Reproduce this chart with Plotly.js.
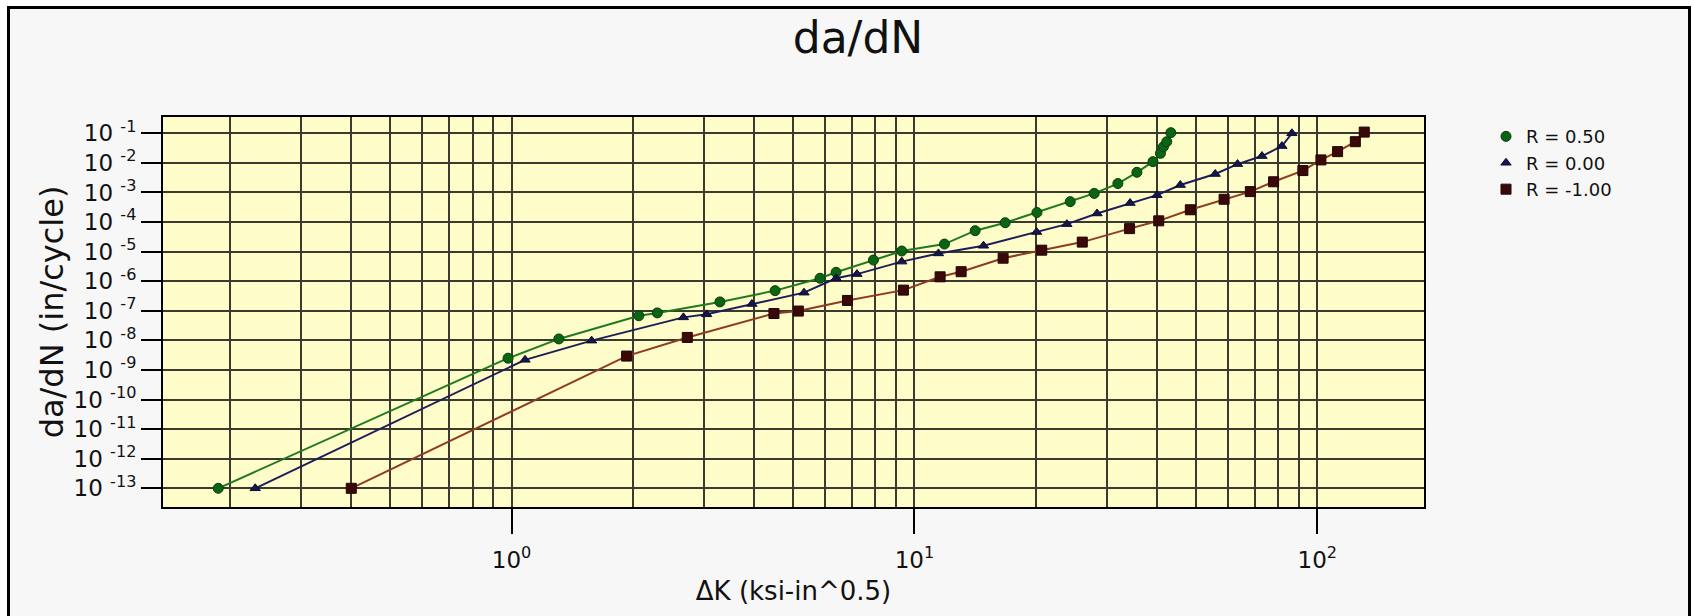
<!DOCTYPE html>
<html><head><meta charset="utf-8">
<script src="https://cdn.plot.ly/plotly-3.0.1.min.js"></script>
<style>
html,body{margin:0;padding:0;background:#ffffff;width:1694px;height:616px;overflow:hidden}
#frame{position:absolute;left:7px;top:6px;width:1684px;height:620px;box-sizing:border-box;border:3px solid #000;border-bottom:none;background:#f7f7f7}
#chart{position:absolute;left:0;top:0;width:1694px;height:616px}
</style></head><body>
<div id="frame"></div><div id="chart"></div>
<script>
// ---- data ----
const seriesNames = ['R = 0.50', 'R = 0.00', 'R = -1.00'];

const dK_R050 = [0.187, 0.98, 1.31, 2.07, 2.30, 3.29, 4.51, 5.83, 6.39, 7.91, 9.30, 11.87, 14.15, 16.80, 20.14, 24.36, 27.94, 31.99, 35.67, 39.1, 40.8, 41.5, 42.3, 43.3];
const dadN_R050 = [1e-13, 2.5e-9, 1.12e-8, 6.8e-8, 8.5e-8, 2.0e-7, 4.8e-7, 1.26e-6, 2.0e-6, 5.2e-6, 1.05e-5, 1.8e-5, 5.1e-5, 9.5e-5, 2.1e-4, 4.9e-4, 9.3e-4, 2.0e-3, 4.8e-3, 1.1e-2, 2.1e-2, 3.5e-2, 5.2e-2, 0.105];

const dK_R000 = [0.231, 1.08, 1.58, 2.67, 3.05, 3.95, 5.32, 6.39, 7.2, 9.30, 11.47, 14.84, 20.1, 23.9, 28.4, 34.3, 40.0, 45.7, 55.8, 63.4, 72.9, 81.7, 86.5];
const dadN_R000 = [1e-13, 2.2e-9, 9.8e-9, 6.0e-8, 7.6e-8, 1.7e-7, 4.1e-7, 1.26e-6, 1.74e-6, 4.6e-6, 8.7e-6, 1.58e-5, 4.6e-5, 8.5e-5, 1.95e-4, 4.4e-4, 8.1e-4, 1.78e-3, 4.2e-3, 9.1e-3, 1.7e-2, 3.7e-2, 0.1];

const dK_Rm100 = [0.40, 1.93, 2.73, 4.48, 5.15, 6.82, 9.39, 11.58, 13.06, 16.6, 20.7, 26.1, 34.2, 40.4, 48.4, 58.7, 68.2, 77.9, 92.1, 102.1, 112.3, 124.3, 130.8];
const dadN_Rm100 = [1e-13, 2.95e-9, 1.26e-8, 8.1e-8, 9.8e-8, 2.24e-7, 5.0e-7, 1.41e-6, 2.1e-6, 6.0e-6, 1.12e-5, 2.1e-5, 6.0e-5, 1.1e-4, 2.6e-4, 5.9e-4, 1.07e-3, 2.3e-3, 5.5e-3, 1.26e-2, 2.4e-2, 5.2e-2, 0.11];

const xTickVals = [1, 10, 100];
const xTickText = ['10<sup>0</sup>', '10<sup>1</sup>', '10<sup>2</sup>'];
const yTickVals = [1e-13, 1e-12, 1e-11, 1e-10, 1e-9, 1e-8, 1e-7, 1e-6, 1e-5, 1e-4, 1e-3, 1e-2, 1e-1];
const yTickText = ['10 <sup>-13</sup>', '10 <sup>-12</sup>', '10 <sup>-11</sup>', '10 <sup>-10</sup>',
  '10 <sup>-9</sup>', '10 <sup>-8</sup>', '10 <sup>-7</sup>', '10 <sup>-6</sup>',
  '10 <sup>-5</sup>', '10 <sup>-4</sup>', '10 <sup>-3</sup>', '10 <sup>-2</sup>', '10 <sup>-1</sup>'];

// ---- chart ----
const FONT = 'DejaVu Sans, Verdana, sans-serif';
const gridCol = '#3a3a30';

const styles = [
  {line: {color: '#1f7a1f', width: 2},
   marker: {symbol: 'circle', size: 10, color: '#0b6414', line: {color: '#063d0b', width: 1}}},
  {line: {color: '#1d1d5a', width: 2},
   marker: {symbol: 'triangle-up', size: 9, color: '#16164f', line: {color: '#0c0c30', width: 1}}},
  {line: {color: '#8e3b22', width: 2},
   marker: {symbol: 'square', size: 10, color: '#3a0808', line: {color: '#220404', width: 1}}}
];
const xs = [dK_R050, dK_R000, dK_Rm100];
const ys = [dadN_R050, dadN_R000, dadN_Rm100];

const traces = [];
// connecting lines (not in legend)
for (let i = 0; i < 3; i++) {
  traces.push({x: xs[i], y: ys[i], name: seriesNames[i], mode: 'lines', type: 'scatter',
               line: styles[i].line, showlegend: false, hoverinfo: 'skip'});
}
// markers (legend shows marker only, as in the reference)
for (let i = 0; i < 3; i++) {
  traces.push({x: xs[i], y: ys[i], name: seriesNames[i], mode: 'markers', type: 'scatter',
               marker: styles[i].marker, showlegend: true});
}

const L = 163, R = 1424, T = 117, B = 507, W = 1694, H = 616;

const layout = {
  width: W, height: H,
  paper_bgcolor: 'rgba(0,0,0,0)',
  plot_bgcolor: '#fefcc9',
  margin: {l: L, r: W - R, t: T, b: H - B, pad: 0},
  font: {family: FONT, color: '#111'},
  title: {text: 'da/dN', font: {family: FONT, size: 44, color: '#111'},
          x: 858 / W, xanchor: 'center', y: 1 - 38 / H, yanchor: 'middle'},
  showlegend: true,
  legend: {x: (1486 - L) / (R - L), xanchor: 'left', y: 0.997, yanchor: 'top',
           font: {family: FONT, size: 18, color: '#111'}, bgcolor: 'rgba(0,0,0,0)', borderwidth: 0,
           tracegroupgap: 0, traceorder: 'normal'},
  xaxis: {
    type: 'log', range: [-0.8653, 2.2649], autorange: false,
    tickmode: 'array', tickvals: xTickVals, ticktext: xTickText,
    ticks: 'outside', ticklen: 25, tickwidth: 2, tickcolor: '#000',
    ticklabelstandoff: 6,
    tickfont: {family: FONT, size: 23, color: '#111'},
    showline: true, linewidth: 2, linecolor: '#000', mirror: true,
    showgrid: true, gridcolor: gridCol, gridwidth: 2, zeroline: false,
    minor: {dtick: 'D1', showgrid: true, gridcolor: gridCol, gridwidth: 2, ticks: ''},
    title: {text: 'ΔK (ksi-in^0.5)', font: {family: FONT, size: 26, color: '#111'}, standoff: 10}
  },
  yaxis: {
    type: 'log', range: [-13.632, -0.449], autorange: false,
    tickmode: 'array', tickvals: yTickVals, ticktext: yTickText,
    ticks: 'outside', ticklen: 20, tickwidth: 2, tickcolor: '#000',
    tickfont: {family: FONT, size: 23, color: '#111'},
    showline: true, linewidth: 2, linecolor: '#000', mirror: true,
    showgrid: true, gridcolor: gridCol, gridwidth: 2, zeroline: false,
    title: {text: 'da/dN (in/cycle)', font: {family: FONT, size: 32, color: '#111'}, standoff: 0}
  }
};

Plotly.newPlot('chart', traces, layout, {displayModeBar: false, staticPlot: true});
</script>
</body></html>
